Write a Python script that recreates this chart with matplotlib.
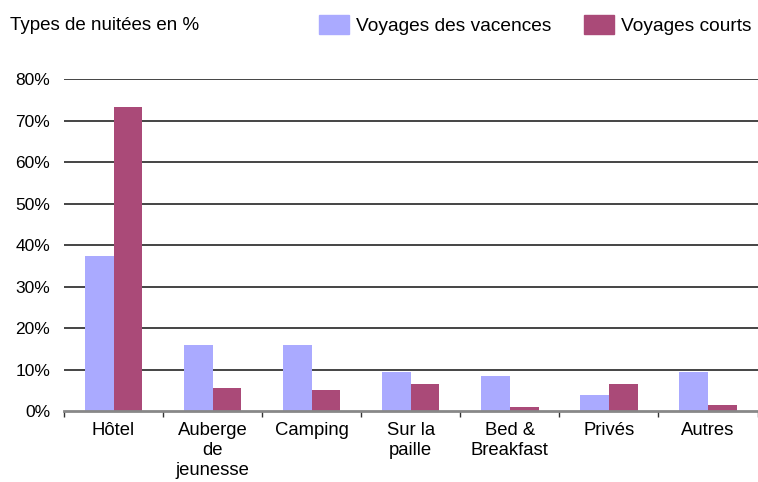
import numpy as np
import matplotlib.pyplot as plt
from matplotlib.patches import Patch

plt.rcParams['font.family'] = ['Liberation Sans', 'DejaVu Sans']

categories = ["Hôtel", "Auberge\nde\njeunesse", "Camping", "Sur la\npaille",
              "Bed &\nBreakfast", "Privés", "Autres"]
vacances = [37.3, 15.9, 15.9, 9.4, 8.4, 3.9, 9.4]
courts = [73.3, 5.5, 5.1, 6.5, 1.0, 6.5, 1.4]
yticks = [0, 10, 20, 30, 40, 50, 60, 70, 80]

blue = '#AAAAFF'
purple = '#AA4A78'

fig = plt.figure(figsize=(7.58, 4.82), dpi=100)
ax = fig.add_axes([0.0844, 0.147, 0.915, 0.689])

x = np.arange(len(categories))
w = 0.29
ax.bar(x - w / 2, vacances, w, color=blue, zorder=3)
ax.bar(x + w / 2, courts, w, color=purple, zorder=3)

ax.set_xlim(-0.5, len(categories) - 0.5)
ax.set_ylim(0, 80)
ax.set_yticks(yticks)
ax.set_yticklabels([f"{v}%" for v in yticks], fontsize=12.5)
for v in yticks[1:]:
    ax.axhline(v, color='#444444', lw=1.4, zorder=1)

ax.set_xticks(x)
ax.set_xticklabels(categories, fontsize=13.3, va='top', linespacing=1.22)
ax.set_xticks(np.arange(len(categories) + 1) - 0.5, minor=True)
ax.tick_params(axis='x', which='major', length=0, pad=8)
ax.tick_params(axis='x', which='minor', length=4, width=1, color='#333333')
ax.tick_params(axis='y', length=0, pad=10)

for s in ['top', 'right', 'left']:
    ax.spines[s].set_visible(False)
ax.spines['bottom'].set_color('#888888')
ax.spines['bottom'].set_linewidth(2)
ax.spines['bottom'].set_zorder(4)

fig.text(0.013, 0.948, "Types de nuitées en %", fontsize=13.5, va='center')
handles = [Patch(color=blue, label="Voyages des vacences"),
           Patch(color=purple, label="Voyages courts")]
fig.legend(handles=handles, loc='center right', bbox_to_anchor=(1.009, 0.948),
           ncol=2, frameon=False, fontsize=13.8, handlelength=1.55,
           handleheight=1.1, handletextpad=0.35, columnspacing=1.75,
           borderpad=0.2)

fig.savefig('out.png', dpi=100)
